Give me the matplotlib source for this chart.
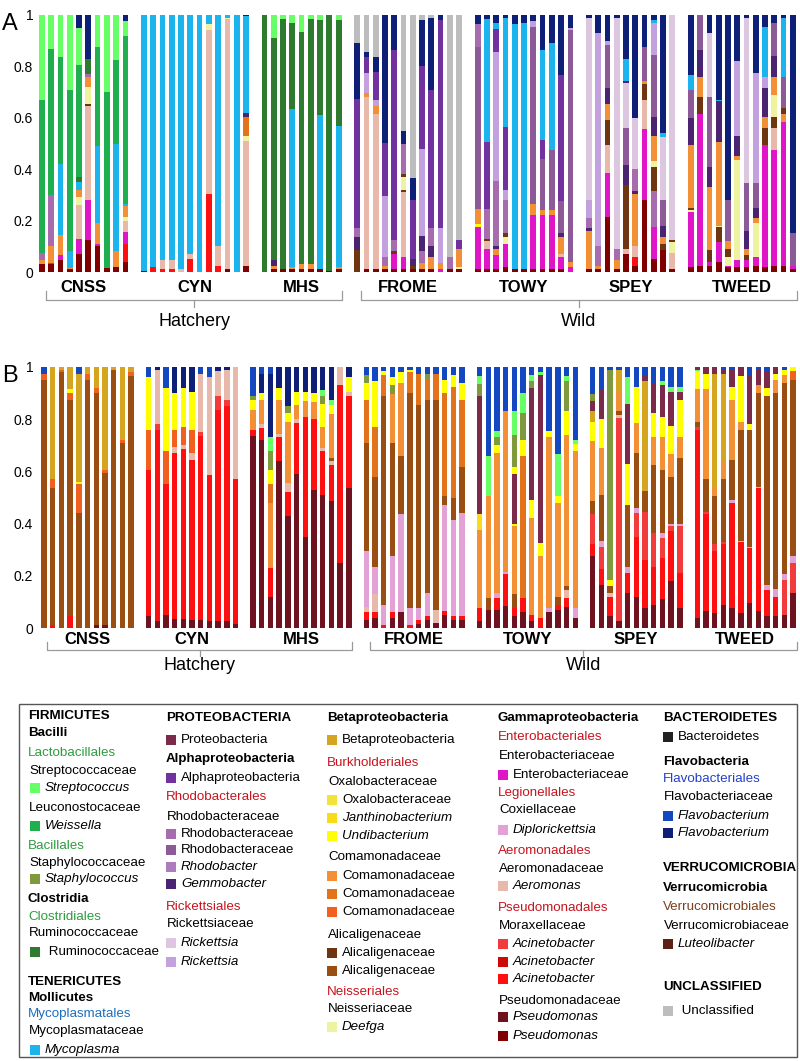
# Stacked relative-abundance bars, panels A and B, with taxonomy legend
import numpy as np
import matplotlib
matplotlib.use('Agg')
import matplotlib.pyplot as plt
from matplotlib.patches import Rectangle

plt.rcParams['font.family'] = ['Liberation Sans', 'DejaVu Sans']

COLORS = {
    'strep': '#66FF66', 'weis': '#1FAF4E', 'staph': '#7E9A3C', 'rumi': '#2E7B30',
    'myco': '#1CB4EC', 'prot': '#7B2A4A', 'alpha': '#7132A0', 'rhA': '#A66CAE',
    'rhB': '#8C5A96', 'rhod': '#AE7CBC', 'gemm': '#4A2470', 'rick1': '#DCC6E0',
    'rick2': '#C3A0DE', 'beta': '#D6A520', 'oxal': '#F2E33A', 'janth': '#F7DC17',
    'undib': '#FFFF00', 'comA': '#F39035', 'comB': '#E2731A', 'comC': '#F2601F',
    'alicA': '#6E3510', 'alicB': '#9B4E12', 'deef': '#EEF3A0', 'entero': '#E015C8',
    'diplo': '#E2A2D6', 'aero': '#E8B8AA', 'acinA': '#F23C3C', 'acinB': '#CC0A0A',
    'acinC': '#FF1010', 'pseuA': '#6E1220', 'pseuB': '#800000', 'bact': '#222222',
    'flavA': '#1448C0', 'flavB': '#0E1F78', 'lute': '#5C2218', 'uncl': '#BDBDBD',
}

groups = ['CNSS', 'CYN', 'MHS', 'FROME', 'TOWY', 'SPEY', 'TWEED']

# each bar: taxon:cumulative top, from the bottom up
A_CNSS = [
    "pseuB:.03 comA:.045 rhA:.075 weis:.67 strep:1",
    "pseuB:.03 entero:.035 comA:.10 rhA:.30 weis:.866 strep:1",
    "pseuB:.045 entero:.065 comA:.145 myco:.42 weis:.835 strep:1",
    "pseuB:.01 comA:.015 myco:.08 weis:.71 strep:1",
    "pseuB:.07 entero:.13 aero:.26 deef:.29 comA:.32 myco:.35 rumi:.37 weis:.805 strep:.95 flavB:1",
    "pseuB:.125 entero:.28 aero:.645 alicA:.655 deef:.72 comA:.76 rhA:.77 rumi:.83 flavB:1",
    "pseuB:.10 entero:.11 comA:.19 myco:.49 weis:.875 strep:1",
    "pseuB:.015 weis:.70 strep:1",
    "pseuB:.02 comA:.08 myco:.50 weis:.825 strep:1",
    "pseuB:.04 acinC:.11 entero:.155 aero:.20 deef:.215 comA:.255 myco:.265 weis:.92 strep:.975 flavB:1",
]
A_CYN = [
    "pseuB:.005 myco:1",
    "acinC:.02 myco:1",
    "acinC:.01 aero:.045 myco:1",
    "acinC:.01 aero:.045 myco:1",
    "aero:.01 myco:1",
    "acinC:.05 aero:.07 myco:1",
    "myco:1",
    "acinC:.305 aero:.94 deef:.965 myco:1",
    "acinC:.025 aero:.10 myco:1",
    "pseuB:.01 aero:.985 deef:.99 myco:1",
    "myco:1",
    "pseuB:.025 aero:.51 deef:.53 comB:.605 gemm:.62 myco:.995 flavB:1",
]
A_MHS = [
    "rumi:1",
    "pseuB:.01 comA:.025 gemm:.045 rumi:.91 strep:1",
    "pseuB:.01 rumi:.985 strep:1",
    "pseuB:.01 comA:.02 myco:.635 rumi:.97 strep:1",
    "pseuB:.01 comA:.03 rumi:.935 strep:1",
    "pseuB:.01 comA:.03 rumi:.985 strep:1",
    "pseuB:.01 myco:.61 rumi:.98 strep:1",
    "pseuB:.005 rumi:1",
    "pseuB:.01 comA:.02 myco:.57 rumi:.98 strep:1",
]
A_FROME = [
    "alicA:.085 gemm:.135 rhA:.17 alpha:.675 flavB:.89 uncl:1",
    "pseuB:.01 aero:.68 comA:.695 rick2:.775 alpha:.835 flavB:.855 uncl:1",
    "pseuB:.01 aero:.615 comA:.645 rick2:.67 alpha:.78 flavB:.835 uncl:1",
    "pseuB:.01 comA:.025 rhA:.06 rick2:.295 alpha:.50 flavB:1",
    "pseuB:.01 entero:.07 alicA:.08 rhA:.125 alpha:.865 flavB:1",
    "pseuB:.01 entero:.06 aero:.31 alicA:.32 deef:.37 alicA:.38 rhA:.50 flavB:.55 uncl:1",
    "pseuB:.01 alicA:.025 gemm:.05 alpha:.28 flavB:.365 uncl:1",
    "pseuB:.01 comA:.035 rhA:.08 gemm:.14 rick2:.48 alpha:.80 flavB:.98 uncl:1",
    "pseuB:.01 comA:.06 gemm:.10 rhA:.17 alpha:.71 flavB:.99 uncl:1",
    "entero:.01 comA:.035 rick2:.17 alpha:.98 flavB:1",
    "pseuB:.01 rhA:.06 uncl:1",
    "pseuB:.01 deef:.02 comA:.09 alpha:.125 uncl:1",
]
A_TOWY = [
    "pseuB:.01 entero:.175 undib:.185 comA:.245 rhB:.875 rhA:.965 flavB:1",
    "pseuB:.01 entero:.09 aero:.12 alicA:.13 rhA:.245 alpha:.505 myco:.985 flavB:1",
    "pseuB:.01 entero:.065 comA:.09 gemm:.10 rhA:.355 rick2:.855 alpha:.945 myco:.97 flavB:1",
    "pseuB:.02 entero:.11 deef:.135 alicA:.15 rhA:.28 rick2:.32 alpha:.565 myco:.99 flavB:1",
    "pseuB:.01 myco:.965 flavB:1",
    "pseuB:.01 myco:.97 flavB:1",
    "pseuB:.01 entero:.22 comA:.265 rhB:.955 rick2:.975 flavB:1",
    "pseuB:.01 entero:.22 comA:.24 rhB:.44 alpha:.515 myco:.865 flavB:1",
    "pseuB:.01 entero:.22 comA:.24 rhB:.475 myco:.89 flavB:1",
    "pseuB:.01 entero:.06 aero:.07 comA:.135 gemm:.15 rhB:.275 alpha:.765 flavB:1",
    "entero:.02 comA:.04 rhB:.94 rick2:.95 flavB:1",
]
A_SPEY = [
    "pseuB:.01 comA:.16 gemm:.17 rhA:.21 rick2:.28 rick1:.99 flavB:1",
    "pseuB:.01 comA:.025 rhA:.10 rick2:.93 flavB:1",
    "pseuB:.215 entero:.385 aero:.495 alicA:.59 comA:.655 gemm:.715 rhB:.885 rick2:.90 flavB:1",
    "pseuB:.01 comA:.045 rhA:.09 rick1:.99 flavB:1",
    "pseuB:.07 aero:.09 alicA:.34 gemm:.415 rhB:.56 rick1:.735 gemm:.745 myco:.83 flavB:1",
    "pseuB:.025 acinC:.06 aero:.10 comA:.305 gemm:.315 rhA:.40 rick1:.60 flavB:1",
    "pseuB:.28 entero:.555 aero:.67 alicA:.73 comA:.745 rhB:.875 flavB:1",
    "pseuB:.05 entero:.175 rhA:.315 alicA:.41 deef:.43 comA:.53 gemm:.605 rhB:.845 rick2:.97 myco:.98 flavB:1",
    "pseuB:.085 alicA:.11 comA:.135 gemm:.18 rhB:.28 rick1:.525 myco:.54 flavB:1",
    "pseuB:.01 aero:.075 deef:.115 alicA:.125 rick1:1",
]
A_TWEED = [
    "pseuB:.02 entero:.235 deef:.24 alicA:.25 comA:.495 gemm:.60 rhB:.71 myco:.765 flavB:1",
    "pseuB:.025 entero:.615 alicA:.68 comA:.76 gemm:.865 rhB:1",
    "pseuB:.025 entero:.04 alicA:.085 comA:.33 gemm:.41 rhB:.68 rick1:.93 flavB:1",
    "pseuB:.04 entero:.115 alicA:.175 deef:.18 comA:.505 gemm:.665 myco:.67 flavB:1",
    "pseuB:.02 entero:.025 deef:.06 alicA:.09 comA:.12 rhB:.28 flavB:1",
    "pseuB:.02 entero:.045 deef:.435 comA:.45 gemm:.53 rick2:.82 flavB:1",
    "pseuB:.02 entero:.045 alicA:.065 comA:.09 gemm:.16 rhB:.345 rick1:.99 flavB:1",
    "pseuB:.025 entero:.06 deef:.19 comA:.21 gemm:.25 rhB:.345 rick2:.775 flavB:1",
    "pseuB:.02 entero:.495 alicA:.56 comA:.605 gemm:.715 rick2:.76 myco:.955 flavB:1",
    "pseuB:.025 entero:.475 aero:.56 alicA:.605 deef:.69 comA:.76 gemm:.84 rhB:.97 flavB:1",
    "pseuB:.025 entero:.585 comA:.615 alicA:.64 rhB:.76 myco:.99 flavB:1",
    "pseuB:.01 entero:.025 rhB:.15 flavB:1",
]

B_CNSS = [
    "alicB:.95 comC:.975 flavA:1",
    "acinC:.01 alicB:.535 comC:.57 beta:1",
    "alicB:.98 comC:.99 beta:1",
    "acinC:.045 alicB:.875 comC:.90 undib:.915 beta:1",
    "alicB:.44 comC:.55 undib:.56 beta:.975 flavA:1",
    "alicB:.95 comC:.975 beta:1",
    "pseuA:.01 alicB:.90 comC:.92 beta:1",
    "pseuA:.01 alicB:.595 comC:.605 beta:1",
    "alicB:.99 beta:1",
    "alicB:.71 comC:.72 beta:1",
    "alicB:.965 comC:.98 beta:1",
]
B_CYN = [
    "pseuA:.045 acinC:.605 comC:.76 undib:.96 flavA:1",
    "pseuA:.025 acinC:.76 acinA:.78 aero:.99 flavB:1",
    "pseuA:.05 acinC:.55 comC:.68 undib:.92 flavA:1",
    "pseuA:.035 acinC:.67 aero:.695 comC:.76 undib:.90 flavB:1",
    "pseuA:.035 acinC:.685 aero:.70 comC:.77 undib:.92 flavB:1",
    "pseuA:.03 acinC:.645 aero:.67 comC:.76 undib:.905 flavB:1",
    "pseuA:.03 acinC:.735 acinA:.75 aero:.975 flavA:1",
    "pseuA:.025 acinC:.585 aero:.96 flavA:1",
    "pseuA:.025 acinC:.835 acinA:.89 aero:.985 flavB:1",
    "pseuA:.025 acinC:.85 acinA:.875 aero:.99 flavB:1",
    "pseuA:.015 acinC:.57 aero:1",
]
B_MHS = [
    "pseuA:.735 acinC:.76 comA:.835 undib:.875 staph:.89 flavA:1",
    "pseuA:.72 acinC:.765 aero:.78 comA:.875 undib:.90 flavB:.975 flavA:1",
    "pseuA:.12 acinC:.23 comA:.48 comB:.55 undib:.605 staph:.68 strep:.73 flavB:.975 flavA:1",
    "pseuA:.64 acinC:.73 aero:.745 comA:.875 undib:.92 flavB:1",
    "pseuA:.43 acinC:.52 aero:.555 comA:.79 undib:.825 staph:.85 flavB:1",
    "pseuA:.59 acinC:.785 aero:.80 comA:.855 undib:.905 flavB:1",
    "pseuA:.35 acinC:.81 comA:.87 undib:.905 flavB:1",
    "pseuA:.53 acinC:.80 comA:.865 undib:.90 flavB:1",
    "pseuA:.51 acinC:.68 aero:.69 comA:.77 undib:.86 staph:.89 strep:.91 flavB:1",
    "pseuA:.485 acinC:.625 aero:.64 alicB:.65 comA:.82 undib:.855 strep:.875 flavB:1",
    "pseuA:.25 acinC:.93 aero:1",
    "pseuA:.535 acinC:.89 aero:.905 undib:.96 flavB:1",
]
B_FROME = [
    "pseuA:.03 acinC:.06 aero:.08 diplo:.295 alicB:.71 comB:.875 undib:.94 staph:.97 flavA:1",
    "pseuA:.04 acinC:.06 aero:.13 diplo:.235 alicB:.58 comB:.77 undib:.945 flavA:1",
    "acinC:.01 diplo:.09 alicB:.89 comB:.97 undib:.985 flavA:1",
    "pseuA:.04 acinC:.06 diplo:.275 alicB:.71 comA:.895 staph:.93 undib:.96 flavA:1",
    "pseuA:.06 diplo:.435 alicB:.66 comA:.94 undib:.98 flavA:1",
    "acinC:.01 diplo:.075 alicB:.90 comB:.98 undib:.99 flavA:1",
    "pseuA:.015 acinC:.03 diplo:.075 alicB:.855 comB:.975 flavA:1",
    "pseuA:.03 acinC:.045 diplo:.135 alicB:.875 comB:.95 staph:.975 flavA:1",
    "pseuA:.02 aero:.07 alicB:.875 comB:.975 flavA:1",
    "pseuA:.05 acinC:.065 diplo:.47 alicB:.505 comB:.90 undib:.95 flavA:1",
    "pseuA:.03 acinC:.045 diplo:.415 alicB:.50 comB:.925 undib:.97 flavA:1",
    "pseuA:.03 acinC:.045 diplo:.44 alicB:.615 comB:.875 undib:.94 flavA:1",
]
B_TOWY = [
    "pseuA:.025 acinC:.075 comA:.375 janth:.435 prot:.89 staph:.935 strep:.965 flavA:1",
    "pseuA:.07 alicB:.115 comA:.505 strep:.66 flavA:1",
    "pseuA:.07 acinC:.115 diplo:.135 comA:.67 undib:.70 staph:.73 strep:.755 flavA:1",
    "pseuA:.085 acinC:.205 diplo:.215 comA:.83 flavA:1",
    "pseuA:.045 acinC:.075 alicB:.13 comA:.39 undib:.40 prot:.59 undib:.615 staph:.74 strep:.83 flavA:1",
    "pseuA:.06 acinC:.115 comB:.66 undib:.72 staph:.825 strep:.90 flavA:1",
    "pseuA:.025 acinC:.05 comA:.42 undib:.49 prot:.92 staph:.945 strep:.97 flavA:1",
    "acinC:.04 comA:.275 undib:.325 prot:.97 strep:.98 flavA:1",
    "pseuA:.06 diplo:.075 comA:.73 undib:.755 flavA:1",
    "pseuA:.07 acinC:.09 alicB:.12 comA:.48 undib:.505 strep:.665 flavA:1",
    "pseuA:.08 acinC:.115 aero:.145 alicB:.16 comA:.74 undib:.83 staph:.945 strep:.965 flavA:1",
    "pseuA:.04 diplo:.075 comA:.68 undib:.705 strep:.72 flavA:1",
]
B_SPEY = [
    "pseuA:.275 acinC:.32 acinA:.435 alicB:.485 comA:.715 undib:.79 beta:.83 prot:.87 staph:.895 flavA:1",
    "pseuA:.165 acinC:.225 acinA:.31 diplo:.335 alicB:.51 comA:.69 undib:.80 prot:.915 flavA:1",
    "pseuA:.045 acinC:.12 aero:.135 alicB:.16 undib:.185 staph:.99 flavA:1",
    "pseuA:.025 acinA:.805 aero:.815 alicB:.83 comA:.905 beta:.99 flavA:1",
    "pseuA:.135 acinC:.21 diplo:.235 alicB:.47 undib:.63 prot:.86 strep:.96 flavA:1",
    "pseuA:.12 acinC:.35 acinA:.44 diplo:.46 alicB:.67 comA:.785 undib:.925 flavA:1",
    "pseuA:.077 acinC:.26 acinA:.445 alicB:.525 beta:.945 prot:.97 flavA:1",
    "pseuA:.09 acinC:.235 acinA:.365 alicB:.625 comA:.73 undib:.825 prot:.94 flavA:1",
    "pseuA:.11 acinC:.27 acinA:.345 diplo:.365 alicB:.605 comA:.73 undib:.81 prot:.93 strep:.945 flavA:1",
    "pseuA:.18 acinC:.37 acinA:.39 diplo:.40 alicB:.58 comA:.665 undib:.775 prot:.905 strep:.925 flavA:1",
    "pseuA:.077 acinC:.21 acinA:.39 diplo:.40 alicB:.65 comA:.73 undib:.875 prot:.905 strep:.925 flavA:1",
]
B_TWEED = [
    "pseuA:.04 acinC:.76 acinA:.77 alicB:.79 comA:.915 undib:.985 strep:.99 prot:1",
    "pseuA:.065 acinC:.435 acinA:.445 alicB:.57 comA:.915 undib:.975 prot:1",
    "pseuA:.058 acinC:.295 acinA:.32 alicB:.505 comA:.535 beta:.975 prot:1",
    "pseuA:.09 acinC:.32 acinA:.33 alicB:.57 comA:.64 beta:.975 prot:.99 flavA:1",
    "pseuA:.077 acinC:.48 diplo:.49 alicB:.645 comA:.875 undib:.925 prot:.99 flavA:1",
    "pseuA:.058 acinC:.33 diplo:.335 alicB:.76 comA:.79 undib:.965 prot:1",
    "pseuA:.096 acinC:.305 diplo:.31 alicB:.76 undib:.78 prot:.97 flavA:1",
    "pseuA:.064 acinC:.535 diplo:.54 alicB:.90 comA:.93 prot:.99 flavA:1",
    "pseuA:.045 acinC:.145 diplo:.165 alicB:.89 undib:.92 prot:.98 flavA:1",
    "pseuA:.045 acinC:.12 diplo:.15 alicB:.90 comA:.95 undib:.975 prot:1",
    "pseuA:.051 acinA:.185 diplo:.205 alicB:.94 comA:.97 undib:.99 flavA:1",
    "pseuA:.134 acinA:.25 diplo:.275 alicB:.95 comC:.985 undib:1",
]

A_bars = [A_CNSS, A_CYN, A_MHS, A_FROME, A_TOWY, A_SPEY, A_TWEED]
B_bars = [B_CNSS, B_CYN, B_MHS, B_FROME, B_TOWY, B_SPEY, B_TWEED]

W, H = 800, 1061
fig = plt.figure(figsize=(W / 100, H / 100), dpi=100)


def parse(s):
    segs, prev = [], 0.0
    for tok in s.split():
        k, v = tok.split(':')
        v = float(v)
        segs.append((k, prev, v - prev))
        prev = v
    return segs


def panel(bars, x0, dx, top, bot, letter, lab_y, br_y, br_end, br_tip, txt_y):
    left_px, right_px = 36, 798
    ax = fig.add_axes([left_px / W, 1 - bot / H, (right_px - left_px) / W, (bot - top) / H])
    ax.set_xlim((left_px - x0) / dx, (right_px - x0) / dx)
    ax.set_ylim(0, 1)
    h_px = bot - top

    def ay(ypx):  # pixel row -> axes fraction
        return (bot - ypx) / h_px

    pos, p = [], 0
    for g in bars:
        pos.append(np.arange(len(g)) + p)
        p += len(g) + 1
    stacks = {}
    for g, ps in zip(bars, pos):
        for x, s in zip(ps, g):
            for k, b, h in parse(s):
                stacks.setdefault(k, ([], [], []))
                stacks[k][0].append(x)
                stacks[k][1].append(b)
                stacks[k][2].append(h)
    for k, (xs, bs, hs) in stacks.items():
        ax.bar(xs, hs, bottom=bs, width=0.62, color=COLORS[k], linewidth=0)

    for sp in ax.spines.values():
        sp.set_visible(False)
    ax.set_xticks([])
    ax.set_yticks([0, 0.2, 0.4, 0.6, 0.8, 1])
    ax.set_yticklabels(['0', '0.2', '0.4', '0.6', '0.8', '1'], fontsize=10)
    ax.tick_params(axis='y', length=0, pad=2)

    tr = ax.get_xaxis_transform()
    for name, ps in zip(groups, pos):
        ax.text(ps.mean(), ay(lab_y), name, transform=tr, ha='center', va='center',
                fontsize=12, fontweight='bold')
    for label, gi in [('Hatchery', (0, 2)), ('Wild', (3, 6))]:
        xa = pos[gi[0]][0] + 0.4
        xb = pos[gi[1]][-1] + 0.4
        xm = (xa + xb) / 2
        ax.plot([xa, xa, xb, xb], [ay(br_end), ay(br_y), ay(br_y), ay(br_end)],
                transform=tr, color='#9a9a9a', lw=0.9, clip_on=False)
        ax.plot([xm, xm], [ay(br_y), ay(br_tip)], transform=tr, color='#9a9a9a',
                lw=0.9, clip_on=False)
        ax.text(xm, ay(txt_y), label, transform=tr, ha='center', va='center', fontsize=13)
    fig.text(2 / W, 1 - (top - 2) / H, letter, fontsize=17, ha='left', va='top')
    return ax


panel(A_bars, 42, 9.27, 15, 272, 'A', 287, 300, 291, 307, 322)
panel(B_bars, 44, 8.71, 367, 628, 'B', 640, 650, 642, 656, 666)

# legend
GREEN, RED, BLUE, BLUE2, BROWN = '#2E9C3E', '#C8141E', '#1C6FBF', '#2340C8', '#7B3F1D'
LEGEND = [
    (28, [(716, 'P', 'FIRMICUTES', None), (733, 'C', 'Bacilli', None),
          (753, 'O', 'Lactobacillales', GREEN), (771, 'F', 'Streptococcaceae', None),
          (788, 'I', 'Streptococcus', 'strep'), (808, 'F', 'Leuconostocaceae', None),
          (826, 'I', 'Weissella', 'weis'), (846, 'O', 'Bacillales', GREEN),
          (863, 'F', 'Staphylococcaceae', None), (879, 'I', 'Staphylococcus', 'staph'),
          (899, 'C', 'Clostridia', None), (917, 'O', 'Clostridiales', GREEN),
          (933, 'F', 'Ruminococcaceae', None), (952, 'S', ' Ruminococcaceae', 'rumi'),
          (982, 'P', 'TENERICUTES', None), (998, 'C', 'Mollicutes', None),
          (1014, 'O', 'Mycoplasmatales', BLUE), (1031, 'F', 'Mycoplasmataceae', None),
          (1050, 'I', 'Mycoplasma', 'myco')]),
    (166, [(718, 'P', 'PROTEOBACTERIA', None), (740, 'S', 'Proteobacteria', 'prot'),
           (759, 'C', 'Alphaproteobacteria', None), (778, 'S', 'Alphaproteobacteria', 'alpha'),
           (797, 'O', 'Rhodobacterales', RED), (817, 'F', 'Rhodobacteraceae', None),
           (834, 'S', 'Rhodobacteraceae', 'rhA'), (850, 'S', 'Rhodobacteraceae', 'rhB'),
           (867, 'I', 'Rhodobacter', 'rhod'), (884, 'I', 'Gemmobacter', 'gemm'),
           (907, 'O', 'Rickettsiales', RED), (924, 'F', 'Rickettsiaceae', None),
           (943, 'I', 'Rickettsia', 'rick1'), (962, 'I', 'Rickettsia', 'rick2')]),
    (327, [(718, 'C', 'Betaproteobacteria', None), (740, 'S', 'Betaproteobacteria', 'beta'),
           (763, 'O', 'Burkholderiales', RED), (782, 'F', 'Oxalobacteraceae', None),
           (800, 'S', 'Oxalobacteraceae', 'oxal'), (818, 'I', 'Janthinobacterium', 'janth'),
           (836, 'I', 'Undibacterium', 'undib'), (857, 'F', 'Comamonadaceae', None),
           (876, 'S', 'Comamonadaceae', 'comA'), (894, 'S', 'Comamonadaceae', 'comB'),
           (912, 'S', 'Comamonadaceae', 'comC'), (935, 'F', 'Alicaligenaceae', None),
           (953, 'S', 'Alicaligenaceae', 'alicA'), (971, 'S', 'Alicaligenaceae', 'alicB'),
           (992, 'O', 'Neisseriales', RED), (1009, 'F', 'Neisseriaceae', None),
           (1027, 'I', 'Deefga', 'deef')]),
    (498, [(718, 'C', 'Gammaproteobacteria', None), (737, 'O', 'Enterobacteriales', RED),
           (756, 'F', 'Enterobacteriaceae', None), (775, 'S', 'Enterobacteriaceae', 'entero'),
           (793, 'O', 'Legionellales', RED), (810, 'F', 'Coxiellaceae', None),
           (830, 'I', 'Diplorickettsia', 'diplo'), (851, 'O', 'Aeromonadales', RED),
           (869, 'F', 'Aeromonadaceae', None), (886, 'I', 'Aeromonas', 'aero'),
           (908, 'O', 'Pseudomonadales', RED), (926, 'F', 'Moraxellaceae', None),
           (944, 'I', 'Acinetobacter', 'acinA'), (962, 'I', 'Acinetobacter', 'acinB'),
           (979, 'I', 'Acinetobacter', 'acinC'), (1001, 'F', 'Pseudomonadaceae', None),
           (1017, 'I', 'Pseudomonas', 'pseuA'), (1036, 'I', 'Pseudomonas', 'pseuB')]),
    (663, [(718, 'P', 'BACTEROIDETES', None), (737, 'S', 'Bacteroidetes', 'bact'),
           (762, 'C', 'Flavobacteria', None), (779, 'O', 'Flavobacteriales', BLUE2),
           (797, 'F', 'Flavobacteriaceae', None), (816, 'I', 'Flavobacterium', 'flavA'),
           (833, 'I', 'Flavobacterium', 'flavB'), (868, 'P', 'VERRUCOMICROBIA', None),
           (888, 'C', 'Verrucomicrobia', None), (907, 'O', 'Verrucomicrobiales', BROWN),
           (926, 'F', 'Verrucomicrobiaceae', None), (944, 'I', 'Luteolibacter', 'lute'),
           (987, 'P', 'UNCLASSIFIED', None), (1011, 'S', ' Unclassified', 'uncl')]),
]

lax = fig.add_axes([0, 0, 1, 1])
lax.set_xlim(0, W)
lax.set_ylim(H, 0)
lax.axis('off')
lax.add_patch(Rectangle((19, 704), 778, 353, fill=False, edgecolor='#555555', lw=1.0))
FS = 9.6
for cx, rows in LEGEND:
    for y, kind, text, c in rows:
        if kind in 'PC':
            lax.text(cx, y, text, fontsize=FS, fontweight='bold', va='center', ha='left')
        elif kind == 'O':
            lax.text(cx, y, text, fontsize=FS, color=c, va='center', ha='left')
        elif kind == 'F':
            lax.text(cx + 1, y, text, fontsize=FS, va='center', ha='left')
        else:
            sx = cx + (2 if cx == 28 else 0)
            lax.add_patch(Rectangle((sx, y - 5), 10, 10, facecolor=COLORS[c], edgecolor='none'))
            lax.text(sx + 15, y, text, fontsize=FS, va='center', ha='left',
                     fontstyle='italic' if kind == 'I' else 'normal')

fig.savefig('out.png', dpi=100)
